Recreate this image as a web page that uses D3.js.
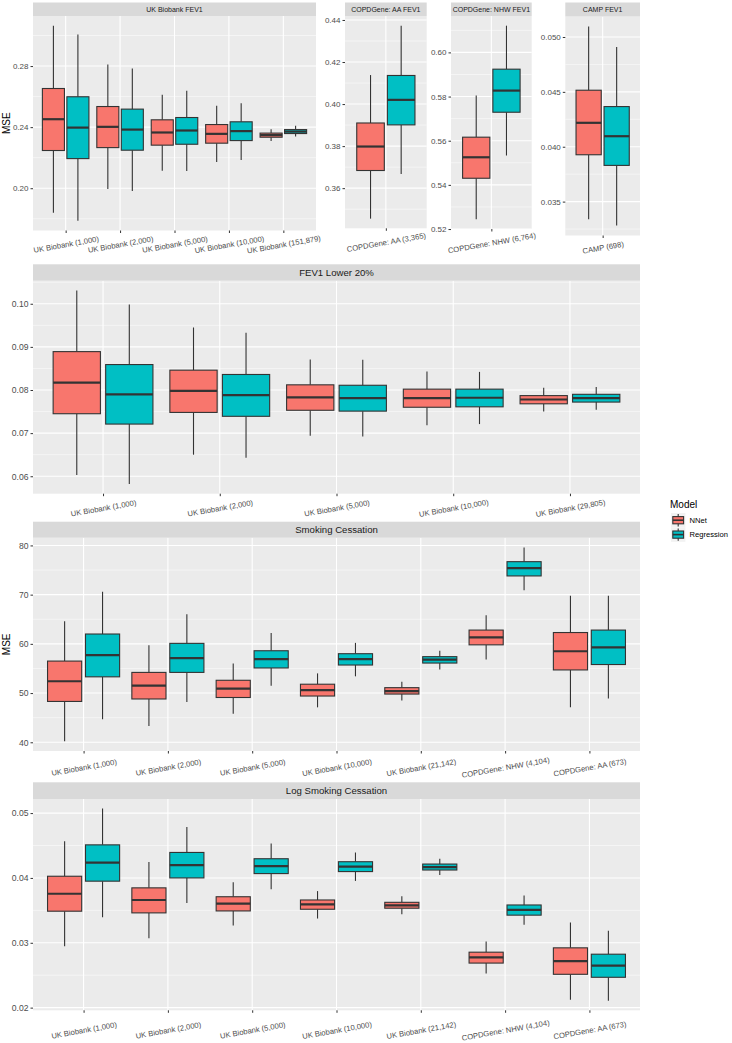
<!DOCTYPE html>
<html>
<head>
<meta charset="utf-8">
<script src="https://cdn.jsdelivr.net/npm/d3@7"></script>
<style>
body { margin: 0; background: #fff; }
svg text { font-family: "Liberation Sans", Arial, Helvetica, sans-serif; }
</style>
</head>
<body>
<div id="chart"></div>
<script>
// box stats per category: [lower whisker, q1, median, q3, upper whisker]
var models = ["NNet", "Regression"];
var modelColors = ["#F8766D", "#00BFC4"];

var ukbFev1Cats = ["UK Biobank (1,000)", "UK Biobank (2,000)", "UK Biobank (5,000)", "UK Biobank (10,000)", "UK Biobank (151,879)"];
var ukbFev1NNet = [[0.184, 0.2247, 0.2452, 0.2653, 0.3064], [0.1995, 0.2266, 0.2402, 0.2535, 0.2811], [0.2115, 0.2282, 0.2365, 0.2448, 0.2612], [0.2172, 0.2295, 0.2356, 0.2417, 0.254], [0.231, 0.2334, 0.2348, 0.2361, 0.2387]];
var ukbFev1Reg = [[0.1787, 0.2194, 0.2397, 0.2599, 0.3006], [0.1982, 0.2249, 0.2384, 0.2518, 0.2784], [0.2113, 0.2288, 0.2378, 0.2463, 0.2638], [0.2185, 0.2312, 0.2374, 0.2435, 0.2557], [0.2338, 0.2358, 0.2371, 0.2384, 0.2409]];
var ukbFev1Ticks = [0.20, 0.24, 0.28];

var copdAaCats = ["COPDGene: AA (3,365)"];
var copdAaNNet = [[0.3455, 0.3684, 0.3798, 0.391, 0.4138]];
var copdAaReg = [[0.3667, 0.3901, 0.402, 0.4136, 0.4373]];
var copdAaTicks = [0.36, 0.38, 0.40, 0.42, 0.44];

var copdNhwCats = ["COPDGene: NHW (6,764)"];
var copdNhwNNet = [[0.5244, 0.543, 0.5525, 0.5616, 0.5805]];
var copdNhwReg = [[0.5533, 0.5729, 0.5827, 0.5924, 0.6121]];
var copdNhwTicks = [0.52, 0.54, 0.56, 0.58, 0.60];

var campCats = ["CAMP (698)"];
var campNNet = [[0.03339, 0.03927, 0.04218, 0.04515, 0.05096]];
var campReg = [[0.03282, 0.0383, 0.04096, 0.04366, 0.04909]];
var campTicks = [0.035, 0.040, 0.045, 0.050];

var lowerCats = ["UK Biobank (1,000)", "UK Biobank (2,000)", "UK Biobank (5,000)", "UK Biobank (10,000)", "UK Biobank (29,805)"];
var lowerNNet = [[0.0603, 0.0745, 0.0817, 0.0889, 0.1031], [0.065, 0.0748, 0.0798, 0.0846, 0.0945], [0.0694, 0.0753, 0.0783, 0.0812, 0.0871], [0.0718, 0.076, 0.0781, 0.0802, 0.0843], [0.075, 0.0768, 0.0778, 0.0787, 0.0805]];
var lowerReg = [[0.0582, 0.0721, 0.079, 0.0859, 0.0998], [0.0643, 0.0739, 0.0788, 0.0836, 0.0933], [0.0692, 0.0751, 0.0781, 0.0811, 0.087], [0.0721, 0.0761, 0.0782, 0.0802, 0.0842], [0.0754, 0.0772, 0.0781, 0.079, 0.0807]];
var lowerTicks = [0.06, 0.07, 0.08, 0.09, 0.10];

var smokeCats = ["UK Biobank (1,000)", "UK Biobank (2,000)", "UK Biobank (5,000)", "UK Biobank (10,000)", "UK Biobank (21,142)", "COPDGene: NHW (4,104)", "COPDGene: AA (673)"];
var smokeNNet = [[40.2, 48.3, 52.4, 56.5, 64.6], [43.3, 48.8, 51.5, 54.2, 59.7], [45.8, 49.1, 50.9, 52.6, 56.0], [47.1, 49.4, 50.6, 51.8, 54.0], [48.5, 49.8, 50.4, 51.1, 52.3], [56.8, 59.8, 61.3, 62.8, 65.8], [47.1, 54.7, 58.5, 62.3, 69.8]];
var smokeReg = [[44.7, 53.3, 57.7, 62.0, 70.6], [48.2, 54.2, 57.1, 60.1, 66.0], [51.5, 55.1, 56.9, 58.6, 62.2], [53.4, 55.7, 56.9, 58.0, 60.2], [54.8, 56.1, 56.8, 57.4, 58.6], [70.9, 73.8, 75.4, 76.7, 79.6], [48.9, 55.8, 59.3, 62.8, 69.8]];
var smokeTicks = [40, 50, 60, 70, 80];

var logSmokeCats = smokeCats;
var logSmokeNNet = [[0.02946, 0.03487, 0.03756, 0.04026, 0.04565], [0.03069, 0.03461, 0.0366, 0.03847, 0.04244], [0.03267, 0.03491, 0.03603, 0.0371, 0.03934], [0.03374, 0.03517, 0.03593, 0.0366, 0.03797], [0.03441, 0.03533, 0.03578, 0.03624, 0.03716], [0.02525, 0.02687, 0.02774, 0.02855, 0.03018], [0.02122, 0.02514, 0.02718, 0.02922, 0.03313]];
var logSmokeReg = [[0.03395, 0.0395, 0.04235, 0.0451, 0.05069], [0.03614, 0.04, 0.04199, 0.04393, 0.04785], [0.03827, 0.04067, 0.04183, 0.04296, 0.0453], [0.03954, 0.04098, 0.04174, 0.0425, 0.04392], [0.04046, 0.04122, 0.04168, 0.04214, 0.04296], [0.03278, 0.03426, 0.03507, 0.03583, 0.03731], [0.02107, 0.02468, 0.02647, 0.02824, 0.03186]];
var logSmokeTicks = [0.02, 0.03, 0.04, 0.05];

var fmt2 = d3.format(".2f"), fmt3 = d3.format(".3f"), fmt0 = d3.format("d");

var panels = [
  {title: "UK Biobank FEV1", cats: ukbFev1Cats, nnet: ukbFev1NNet, reg: ukbFev1Reg, ticks: ukbFev1Ticks, fmt: fmt2,
   x0: 33, x1: 316, stripTop: 2.5, plotTop: 16, plotBottom: 230.5, small: true, labOff: 14, yTitle: "MSE"},
  {title: "COPDGene: AA FEV1", cats: copdAaCats, nnet: copdAaNNet, reg: copdAaReg, ticks: copdAaTicks, fmt: fmt2,
   x0: 345, x1: 426.7, stripTop: 2.5, plotTop: 16, plotBottom: 228.3, small: true, labOff: 14},
  {title: "COPDGene: NHW FEV1", cats: copdNhwCats, nnet: copdNhwNNet, reg: copdNhwReg, ticks: copdNhwTicks, fmt: fmt2,
   x0: 451, x1: 531.7, stripTop: 2.5, plotTop: 16, plotBottom: 229, small: true, labOff: 14},
  {title: "CAMP FEV1", cats: campCats, nnet: campNNet, reg: campReg, ticks: campTicks, fmt: fmt3,
   x0: 565.3, x1: 640, stripTop: 2.5, plotTop: 16.5, plotBottom: 235.5, small: true, labOff: 12},
  {title: "FEV1 Lower 20%", cats: lowerCats, nnet: lowerNNet, reg: lowerReg, ticks: lowerTicks, fmt: fmt2,
   x0: 33, x1: 640, stripTop: 264.3, plotTop: 280.7, plotBottom: 493.7, small: false, labOff: 14.5},
  {title: "Smoking Cessation", cats: smokeCats, nnet: smokeNNet, reg: smokeReg, ticks: smokeTicks, fmt: fmt0,
   x0: 33, x1: 640, stripTop: 521.7, plotTop: 537.7, plotBottom: 751, small: false, labOff: 16.5, yTitle: "MSE"},
  {title: "Log Smoking Cessation", cats: logSmokeCats, nnet: logSmokeNNet, reg: logSmokeReg, ticks: logSmokeTicks, fmt: fmt2,
   x0: 33, x1: 640, stripTop: 782.3, plotTop: 799, plotBottom: 1010.3, small: false, labOff: 20}
];

var width = 732, height = 1043;
var svg = d3.select("#chart").append("svg")
  .attr("width", width)
  .attr("height", height)
  .attr("viewBox", "0 0 " + width + " " + height);

function drawPanel(p) {
  var g = svg.append("g");
  var all = p.nnet.concat(p.reg).flat();
  var lo = d3.min(all), hi = d3.max(all), pad = (hi - lo) * 0.05;
  var n = p.cats.length;

  var y = d3.scaleLinear().domain([lo - pad, hi + pad]).range([p.plotBottom, p.plotTop]);
  var x = d3.scaleLinear().domain([0.4, n + 0.6]).range([p.x0, p.x1]);

  // panel background
  g.append("rect")
    .attr("x", p.x0).attr("y", p.plotTop)
    .attr("width", p.x1 - p.x0).attr("height", p.plotBottom - p.plotTop)
    .attr("fill", "#EBEBEB");

  // minor grid
  var step = p.ticks[1] - p.ticks[0];
  var minor = [];
  for (var v = p.ticks[0] - step / 2; v <= hi + pad; v += step) {
    if (v >= lo - pad) minor.push(v);
  }
  g.selectAll(".minor").data(minor).enter().append("line")
    .attr("x1", p.x0).attr("x2", p.x1)
    .attr("y1", function(d) { return y(d); }).attr("y2", function(d) { return y(d); })
    .attr("stroke", "#fff").attr("stroke-width", 0.5);

  // major grid
  g.selectAll(".major").data(p.ticks).enter().append("line")
    .attr("x1", p.x0).attr("x2", p.x1)
    .attr("y1", function(d) { return y(d); }).attr("y2", function(d) { return y(d); })
    .attr("stroke", "#fff").attr("stroke-width", 1.1);
  g.selectAll(".vmajor").data(d3.range(1, n + 1)).enter().append("line")
    .attr("y1", p.plotTop).attr("y2", p.plotBottom)
    .attr("x1", function(d) { return x(d); }).attr("x2", function(d) { return x(d); })
    .attr("stroke", "#fff").attr("stroke-width", 1.1);

  // strip
  g.append("rect")
    .attr("x", p.x0).attr("y", p.stripTop)
    .attr("width", p.x1 - p.x0).attr("height", p.plotTop - p.stripTop)
    .attr("fill", "#D9D9D9");
  g.append("text")
    .attr("x", (p.x0 + p.x1) / 2).attr("y", (p.stripTop + p.plotTop) / 2)
    .attr("dy", "0.36em")
    .attr("text-anchor", "middle")
    .attr("font-size", p.small ? 7 : 9.6)
    .attr("fill", "#1A1A1A")
    .text(p.title);

  // boxes
  [p.nnet, p.reg].forEach(function(series, m) {
    var off = m === 0 ? -0.225 : 0.225;
    var bw = 0.405;
    var bg = g.append("g");
    series.forEach(function(s, i) {
      var cx = x(i + 1 + off);
      var left = x(i + 1 + off - bw / 2), right = x(i + 1 + off + bw / 2);
      bg.append("line")
        .attr("x1", cx).attr("x2", cx).attr("y1", y(s[4])).attr("y2", y(s[3]))
        .attr("stroke", "#333").attr("stroke-width", 1.1);
      bg.append("line")
        .attr("x1", cx).attr("x2", cx).attr("y1", y(s[1])).attr("y2", y(s[0]))
        .attr("stroke", "#333").attr("stroke-width", 1.1);
      bg.append("rect")
        .attr("x", left).attr("y", y(s[3]))
        .attr("width", right - left).attr("height", y(s[1]) - y(s[3]))
        .attr("fill", modelColors[m])
        .attr("stroke", "#333").attr("stroke-width", 1.1);
      bg.append("line")
        .attr("x1", left).attr("x2", right).attr("y1", y(s[2])).attr("y2", y(s[2]))
        .attr("stroke", "#333").attr("stroke-width", 2.2);
    });
  });

  // y axis
  var yAxis = d3.axisLeft(y).tickValues(p.ticks).tickFormat(p.fmt).tickSize(2.5).tickPadding(2);
  var ya = g.append("g")
    .attr("transform", "translate(" + p.x0 + ",0)")
    .call(yAxis);
  ya.select(".domain").remove();
  ya.selectAll("line").attr("stroke", "#333");
  ya.selectAll("text").attr("fill", "#4D4D4D").attr("font-size", p.small ? 8 : 8.6).attr("font-family", null);

  // x axis
  var xAxis = d3.axisBottom(x).tickValues(d3.range(1, n + 1))
    .tickFormat(function(d) { return p.cats[d - 1]; }).tickSize(2.5);
  var xa = g.append("g")
    .attr("transform", "translate(0," + p.plotBottom + ")")
    .call(xAxis);
  xa.select(".domain").remove();
  xa.selectAll("line").attr("stroke", "#333");
  xa.selectAll("text")
    .attr("fill", "#4D4D4D").attr("font-size", 7.6).attr("font-family", null)
    .attr("y", p.labOff).attr("dy", "0.35em")
    .attr("transform", "rotate(-10 0 " + p.labOff + ")");

  if (p.yTitle) {
    var cy = (p.plotTop + p.plotBottom) / 2;
    g.append("text")
      .attr("transform", "translate(10," + cy + ") rotate(-90)")
      .attr("text-anchor", "middle")
      .attr("font-size", 10)
      .attr("fill", "#000")
      .text(p.yTitle);
  }
}

panels.forEach(drawPanel);

// legend
var legend = svg.append("g").attr("transform", "translate(670,0)");
legend.append("text")
  .attr("x", 0).attr("y", 507.5)
  .attr("font-size", 10)
  .attr("fill", "#000")
  .text("Model");
models.forEach(function(name, i) {
  var ky = 513 + i * 14.4;
  var k = legend.append("g").attr("transform", "translate(1," + ky + ")");
  k.append("rect").attr("width", 14.4).attr("height", 14.4).attr("fill", "#F2F2F2");
  k.append("line").attr("x1", 7.2).attr("x2", 7.2).attr("y1", 1).attr("y2", 13.4)
    .attr("stroke", "#333").attr("stroke-width", 1.1);
  k.append("rect").attr("x", 1.8).attr("y", 3.6).attr("width", 10.8).attr("height", 7.2)
    .attr("fill", modelColors[i]).attr("stroke", "#333").attr("stroke-width", 1.1);
  k.append("line").attr("x1", 1.8).attr("x2", 12.6).attr("y1", 7.2).attr("y2", 7.2)
    .attr("stroke", "#333").attr("stroke-width", 1.6);
  legend.append("text")
    .attr("x", 19.5).attr("y", ky + 7.2).attr("dy", "0.35em")
    .attr("font-size", 7.6)
    .attr("fill", "#000")
    .text(name);
});
</script>
</body>
</html>
